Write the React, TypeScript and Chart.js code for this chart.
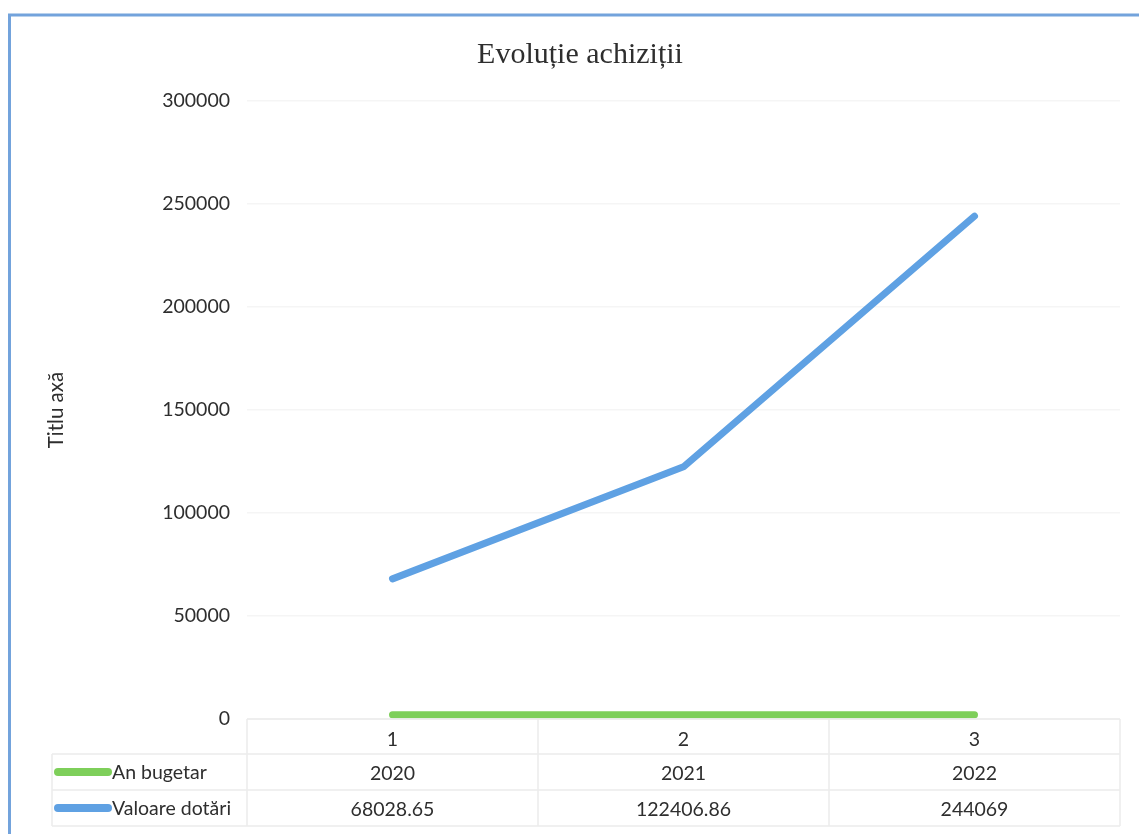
import React, { useEffect, useRef } from "react";
import { Chart, registerables } from "chart.js";

Chart.register(...registerables);

const chartTitle = "Evoluție achiziții";
const axisTitle = "Titlu axă";
const categories = ["1", "2", "3"];
const seriesNames = ["An bugetar", "Valoare dotări"];
const anBugetar = [2020, 2021, 2022];
const valoareDotari = [68028.65, 122406.86, 244069];
const yMin = 0;
const yMax = 300000;
const yStep = 50000;

const GREEN = "#7ecf5a";
const BLUE = "#5fa1e3";
const TEXT = "#2e2e2e";
const FONT = "Lato";
const FSIZE = 19.5;

const tablePlugin = {
  id: "dataTable",
  afterDraw(chart: any) {
    const ctx = chart.ctx as CanvasRenderingContext2D;
    const xs = chart.scales.x;
    const area = chart.chartArea;
    const rows = [anBugetar, valoareDotari];
    const colors = [GREEN, BLUE];
    ctx.save();

    // outer frame (left + top)
    ctx.strokeStyle = "#73a3dc";
    ctx.lineWidth = 3;
    ctx.beginPath();
    ctx.moveTo(9.5, chart.height);
    ctx.lineTo(9.5, 15);
    ctx.lineTo(chart.width, 15);
    ctx.stroke();

    // title
    ctx.fillStyle = "#2e2e2e";
    ctx.font = `30px 'Liberation Serif'`;
    ctx.textAlign = "center";
    ctx.textBaseline = "alphabetic";
    ctx.fillText(chartTitle, 580, 63);

    // table geometry
    const r0 = area.bottom;
    const r1 = r0 + 35;
    const r2 = r1 + 36;
    const r3 = r2 + 36;
    const legendLeft = 52;

    const n = categories.length;
    const bounds: number[] = [area.left];
    for (let i = 0; i < n - 1; i++) {
      bounds.push((xs.getPixelForValue(i) + xs.getPixelForValue(i + 1)) / 2);
    }
    bounds.push(area.right);

    ctx.strokeStyle = "#ececec";
    ctx.lineWidth = 1.5;
    ctx.beginPath();
    ctx.moveTo(area.left, r0);
    ctx.lineTo(area.right, r0);
    [r1, r2, r3].forEach((y) => {
      ctx.moveTo(legendLeft, y);
      ctx.lineTo(area.right, y);
    });
    ctx.moveTo(legendLeft, r1);
    ctx.lineTo(legendLeft, r3);
    bounds.forEach((bx) => {
      ctx.moveTo(bx, r0);
      ctx.lineTo(bx, r3);
    });
    ctx.stroke();

    // legend keys + labels, values
    ctx.font = `${FSIZE}px ${FONT}`;
    ctx.textBaseline = "alphabetic";
    const rowTops = [r1, r2];
    rows.forEach((vals, ri) => {
      const top = rowTops[ri];
      const mid = top + 18;
      ctx.strokeStyle = colors[ri];
      ctx.lineWidth = 8;
      ctx.lineCap = "round";
      ctx.beginPath();
      ctx.moveTo(58, mid);
      ctx.lineTo(108, mid);
      ctx.stroke();
      ctx.fillStyle = TEXT;
      ctx.textAlign = "left";
      ctx.fillText(seriesNames[ri], 112, top + 25);
      ctx.textAlign = "center";
      vals.forEach((v, i) => {
        ctx.fillText(String(v), xs.getPixelForValue(i), top + 26);
      });
    });
    ctx.restore();
  },
};

export default function App() {
  const ref = useRef<HTMLCanvasElement | null>(null);

  useEffect(() => {
    if (!ref.current) return;
    const chart = new Chart(ref.current, {
      type: "line",
      data: {
        labels: categories,
        datasets: [
          {
            label: seriesNames[0],
            data: anBugetar,
            borderColor: GREEN,
            backgroundColor: GREEN,
            borderWidth: 7,
            pointRadius: 0,
            borderCapStyle: "round",
            borderJoinStyle: "round",
          },
          {
            label: seriesNames[1],
            data: valoareDotari,
            borderColor: BLUE,
            backgroundColor: BLUE,
            borderWidth: 7,
            pointRadius: 0,
            borderCapStyle: "round",
            borderJoinStyle: "round",
          },
        ],
      },
      options: {
        animation: false,
        responsive: true,
        maintainAspectRatio: false,
        layout: { padding: { top: 101, left: 40, right: 19, bottom: 79 } },
        plugins: {
          legend: { display: false },
          title: { display: false },
          tooltip: { enabled: false },
        },
        scales: {
          x: {
            offset: true,
            grid: { display: false, drawTicks: false },
            border: { display: false },
            ticks: {
              padding: 9,
              color: TEXT,
              font: { family: FONT, size: FSIZE },
            },
            afterFit: (s: any) => {
              s.height = 36;
            },
          },
          y: {
            min: yMin,
            max: yMax,
            ticks: {
              stepSize: yStep,
              padding: 17,
              color: TEXT,
              font: { family: FONT, size: FSIZE },
              callback: (v: any) => String(v),
            },
            grid: { color: "#f5f5f5", drawTicks: false, lineWidth: 1.5 },
            border: { display: false },
            title: {
              display: true,
              text: axisTitle,
              color: TEXT,
              font: { family: FONT, size: 20.5 },
              padding: { top: 4, bottom: 0 },
            },
            afterFit: (s: any) => {
              s.width = 207;
            },
          },
        },
      },
      plugins: [tablePlugin],
    });
    return () => chart.destroy();
  }, []);

  return (
    <div
      style={{
        position: "fixed",
        left: 0,
        top: 0,
        width: 1139,
        height: 834,
        background: "#ffffff",
      }}
    >
      <canvas ref={ref} />
    </div>
  );
}
